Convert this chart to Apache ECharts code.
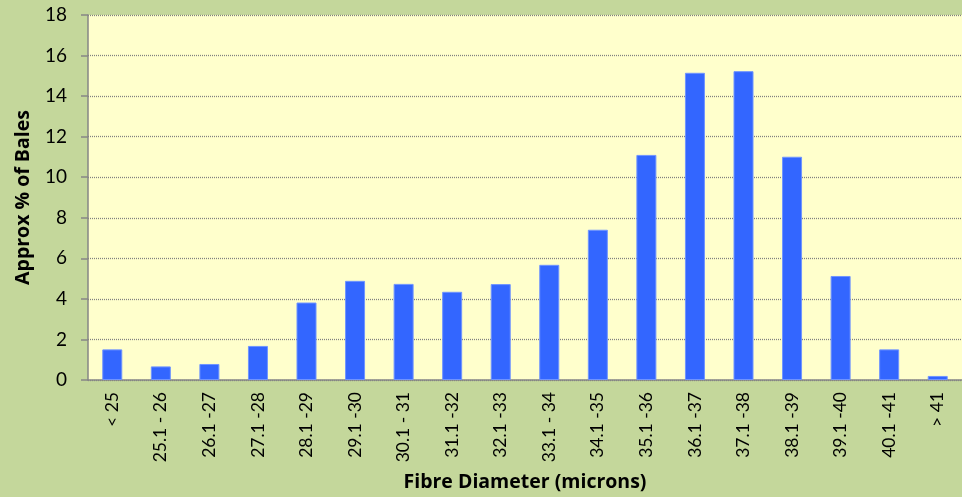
<!DOCTYPE html>
<html>
<head>
<meta charset="utf-8">
<script src="https://cdn.jsdelivr.net/npm/echarts@6/dist/echarts.min.js"></script>
<style>
html, body { margin: 0; padding: 0; background: #c4d79b; }
#main { width: 962px; height: 497px; }
</style>
</head>
<body>
<div id="main"></div>
<script>
// categories (fibre diameter ranges)
var categories = ['< 25', '25.1 - 26', '26.1 -27', '27.1 -28', '28.1 -29', '29.1 -30',
	'30.1 - 31', '31.1 -32', '32.1 -33', '33.1 - 34', '34.1 -35', '35.1 -36',
	'36.1 -37', '37.1 -38', '38.1 -39', '39.1 -40', '40.1 -41', '> 41'];
// approx % of bales
var percentBales = [1.51, 0.67, 0.79, 1.68, 3.82, 4.89, 4.74, 4.35, 4.73, 5.68,
	7.41, 11.1, 15.15, 15.23, 11.01, 5.13, 1.51, 0.2];
var yTicks = { min: 0, max: 18, interval: 2 };

var font = 'Lato, "Open Sans", sans-serif';
var nameFont = '"Open Sans", Lato, sans-serif';
var myChart = echarts.init(document.getElementById('main'));
var option = {
	backgroundColor: '#c4d79b',
	animation: false,
	grid: {
		left: 88,
		right: 0,
		top: 15,
		bottom: 117,
		show: true,
		backgroundColor: '#ffffcc',
		borderWidth: 0
	},
	xAxis: {
		type: 'category',
		data: categories,
		name: 'Fibre Diameter (microns)',
		nameLocation: 'middle',
		nameGap: 92,
		nameTextStyle: { fontFamily: nameFont, fontSize: 19.5, fontWeight: 'bold', color: '#000' },
		axisLine: { lineStyle: { color: '#868686', width: 1.5 } },
		axisTick: { length: 5, lineStyle: { color: '#868686', width: 1.5 } },
		axisLabel: {
			rotate: 90,
			margin: 12,
			interval: 0,
			fontFamily: font,
			fontSize: 17.5,
			color: '#000'
		}
	},
	yAxis: {
		type: 'value',
		min: yTicks.min,
		max: yTicks.max,
		interval: yTicks.interval,
		name: 'Approx % of Bales',
		nameLocation: 'middle',
		nameGap: 55,
		nameTextStyle: { fontFamily: nameFont, fontSize: 19.5, fontWeight: 'bold', color: '#000' },
		axisLine: { show: true, lineStyle: { color: '#868686', width: 1.5 } },
		axisTick: { show: true, length: 7, lineStyle: { color: '#868686', width: 1.5 } },
		axisLabel: { margin: 21, fontFamily: font, fontSize: 19, color: '#000' },
		splitLine: { lineStyle: { color: '#808080', type: [1, 1], width: 1.3 } }
	},
	series: [{
		type: 'bar',
		data: percentBales,
		barWidth: 20,
		itemStyle: {
			color: '#3366ff',
			borderColor: '#6f94ff',
			borderWidth: 1
		}
	}]
};
myChart.setOption(option);
</script>
</body>
</html>
